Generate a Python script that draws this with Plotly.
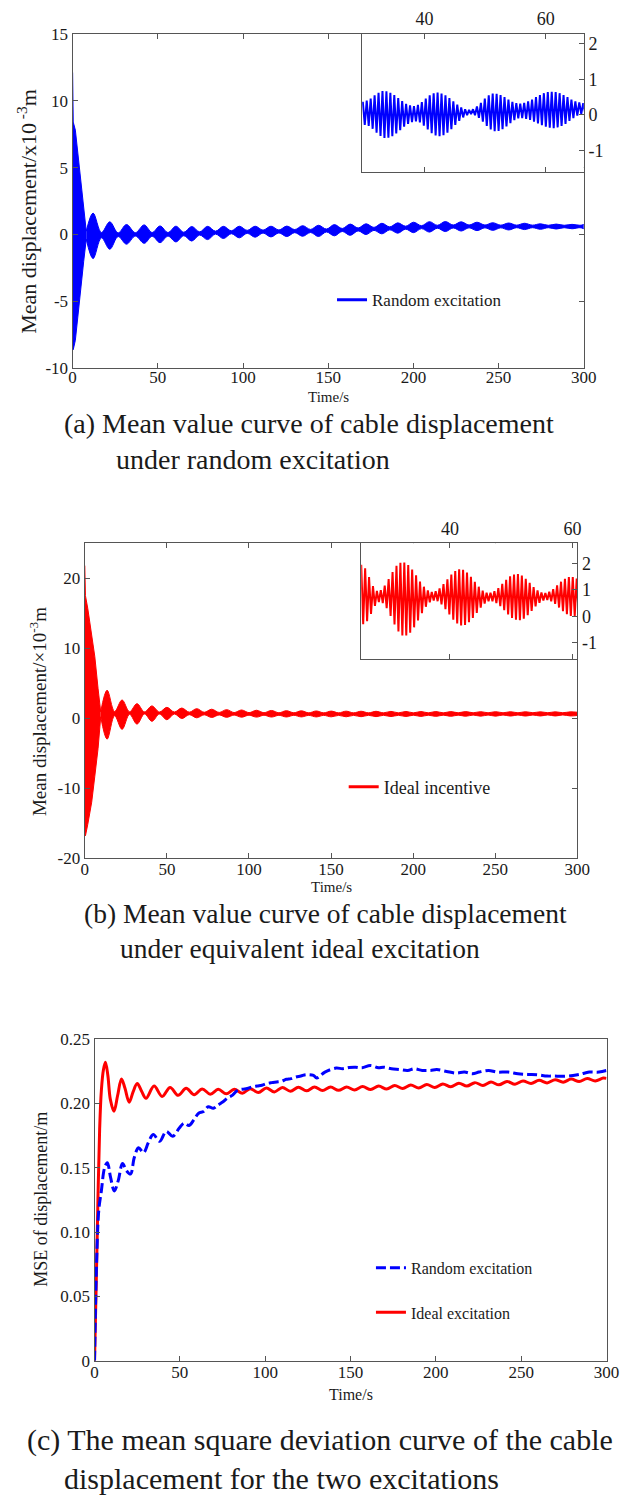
import plotly.graph_objects as go

W, H = 638, 1507
FONT = "Liberation Serif"
BLUE = "#0000ff"
RED = "#ff0000"
AXC = "#555555"
TXT = "#1a1a1a"

# ---------------- (a) mean displacement under random excitation (x10^-3 m) ----------------
# initial decay: time, upper and lower edge of the oscillation band
a_head_t = [0.0, 0.35, 1.6, 2.7, 4.6, 6.5, 8.0]
a_head_up = [12.1, 8.4, 7.8, 6.5, 4.1, 1.6, 0.25]
a_head_lo = [-7.8, -8.6, -7.9, -6.5, -4.3, -2.0, -0.35]
# beat maxima
a_peak_t = [12.0, 21.8, 31.6, 42.0, 51.3, 60.6, 69.9, 79.2, 88.5, 97.8, 107.1, 116.4, 125.7,
            135.0, 144.3, 153.6, 162.9, 172.2, 181.5, 190.8, 200.1, 209.4, 218.7, 228.0, 237.3,
            246.6, 255.9, 265.2, 274.5, 283.8, 293.1]
a_peak_up = [1.6, 0.95, 0.75, 0.72, 0.64, 0.62, 0.60, 0.61, 0.61, 0.62, 0.62, 0.62, 0.63, 0.66,
             0.69, 0.74, 0.78, 0.80, 0.84, 0.87, 0.92, 0.96, 0.97, 0.95, 0.92, 0.88, 0.86, 0.84,
             0.80, 0.78, 0.76]
a_peak_lo = [-1.8, -1.1, -0.72, -0.66, -0.61, -0.55, -0.49, -0.38, -0.30, -0.25, -0.20, -0.18,
             -0.15, -0.13, -0.15, -0.10, -0.06, 0.00, 0.05, 0.10, 0.14, 0.18, 0.22, 0.26, 0.29,
             0.31, 0.34, 0.37, 0.39, 0.41, 0.43]
# beat minima (necks)
a_neck_t = [16.9, 26.7, 36.8, 46.65, 55.95, 65.25, 74.55, 83.85, 93.15, 102.45, 111.75, 121.05,
            130.35, 139.65, 148.95, 158.25, 167.55, 176.85, 186.15, 195.45, 204.75, 214.05,
            223.35, 232.65, 241.95, 251.25, 260.55, 269.85, 279.15, 288.45, 297.75]
a_neck_up = [0.15, 0.12, 0.14, 0.15, 0.15, 0.17, 0.20, 0.25, 0.28, 0.31, 0.33, 0.34, 0.37, 0.38,
             0.41, 0.45, 0.49, 0.53, 0.57, 0.62, 0.66, 0.69, 0.71, 0.71, 0.71, 0.70, 0.70, 0.70,
             0.69, 0.69, 0.69]
a_neck_lo = [-0.25, -0.15, -0.12, -0.13, -0.12, -0.09, -0.04, 0.03, 0.06, 0.09, 0.11, 0.12, 0.14,
             0.15, 0.19, 0.23, 0.27, 0.31, 0.35, 0.40, 0.44, 0.47, 0.49, 0.50, 0.50, 0.50, 0.51,
             0.51, 0.51, 0.51, 0.51]
a_tail = (300.0, 0.75, 0.43)

# inset (a): per-cycle maxima / minima of the fast oscillation, 29.8 s .. 66.2 s
a_ins_t0, a_ins_period = 29.8, 0.65
a_ins_peak = [0.37, 0.40, 0.46, 0.55, 0.62, 0.67, 0.66, 0.62, 0.56, 0.47, 0.39, 0.31, 0.27,
              0.25, 0.28, 0.36, 0.46, 0.55, 0.61, 0.63, 0.60, 0.55, 0.47, 0.38, 0.29, 0.21, 0.16,
              0.14, 0.16, 0.24, 0.34, 0.46, 0.55, 0.60, 0.59, 0.56, 0.50, 0.43, 0.37, 0.33, 0.32,
              0.34, 0.38, 0.43, 0.50, 0.56, 0.61, 0.64, 0.65, 0.64, 0.61, 0.56, 0.50, 0.43, 0.38,
              0.35, 0.33]
a_ins_trough = [-0.28, -0.31, -0.39, -0.50, -0.59, -0.65, -0.64, -0.60, -0.52, -0.43, -0.33,
                -0.25, -0.20, -0.18, -0.21, -0.30, -0.41, -0.51, -0.58, -0.60, -0.57, -0.50,
                -0.40, -0.28, -0.17, -0.07, -0.01, 0.02, -0.01, -0.08, -0.19, -0.31, -0.41,
                -0.46, -0.45, -0.40, -0.32, -0.23, -0.15, -0.10, -0.09, -0.11, -0.14, -0.19,
                -0.24, -0.29, -0.33, -0.36, -0.37, -0.35, -0.31, -0.25, -0.17, -0.09, -0.02,
                0.03, 0.05]

# ---------------- (b) mean displacement under equivalent ideal excitation ----------------
b_head_t = [0.0, 0.4, 1.8, 4.2, 6.1, 8.1, 9.7]
b_head_up = [21.8, 17.5, 15.7, 12.2, 8.8, 4.2, 0.9]
b_head_lo = [-16.0, -16.8, -15.2, -12.0, -8.3, -4.3, 0.2]
b_peak_t = [13.6, 22.7, 31.8, 40.9, 50.0, 59.1, 68.2, 77.3, 86.4, 95.5, 104.6, 113.7, 122.8,
            131.9, 141.0, 150.1, 159.2, 168.3, 177.4, 186.5, 195.6, 204.7, 213.8, 222.9, 232.0,
            241.1, 250.2, 259.3, 268.4, 277.5, 286.6, 295.7]
b_peak_up = [4.0, 2.6, 2.07, 1.75, 1.55, 1.45, 1.36, 1.28, 1.22, 1.17, 1.13, 1.10, 1.07, 1.05,
             1.03, 1.01, 1.00, 0.99, 0.98, 0.97, 0.96, 0.95, 0.95, 0.94, 0.94, 0.93, 0.93, 0.92,
             0.92, 0.91, 0.91, 0.90]
b_peak_lo = [-3.0, -1.6, -0.85, -0.45, -0.22, -0.05, 0.05, 0.10, 0.12, 0.14, 0.15, 0.16, 0.17,
             0.18, 0.18, 0.19, 0.20, 0.21, 0.22, 0.23, 0.24, 0.25, 0.26, 0.27, 0.28, 0.29, 0.29,
             0.30, 0.30, 0.31, 0.31, 0.32]
b_neck_t = [18.15, 27.25, 36.35, 45.45, 54.55, 63.65, 72.75, 81.85, 90.95, 100.05, 109.15,
            118.25, 127.35, 136.45, 145.55, 154.65, 163.75, 172.85, 181.95, 191.05, 200.15,
            209.25, 218.35, 227.45, 236.55, 245.65, 254.75, 263.85, 272.95, 282.05, 291.15]
b_neck_up = [0.95, 0.92, 0.90, 0.88, 0.88, 0.86, 0.84, 0.82, 0.80, 0.79, 0.78, 0.77, 0.77, 0.76,
             0.76, 0.76, 0.76, 0.76, 0.76, 0.76, 0.76, 0.76, 0.76, 0.77, 0.77, 0.77, 0.77, 0.77,
             0.78, 0.78, 0.78]
b_neck_lo = [0.35, 0.55, 0.60, 0.58, 0.60, 0.50, 0.48, 0.46, 0.44, 0.43, 0.42, 0.41, 0.41, 0.40,
             0.40, 0.40, 0.40, 0.41, 0.41, 0.41, 0.42, 0.42, 0.43, 0.43, 0.44, 0.44, 0.45, 0.45,
             0.45, 0.46, 0.46]
b_tail = (300.0, 0.85, 0.38)

# inset (b): per-cycle maxima / minima, 25.5 s .. 60.7 s
b_ins_t0, b_ins_period = 25.5, 0.64
b_ins_peak = [1.95, 1.82, 1.49, 1.14, 0.96, 0.99, 1.16, 1.41, 1.68, 1.91, 2.03, 2.04, 1.94, 1.77,
              1.55, 1.32, 1.12, 0.98, 0.92, 0.95, 1.06, 1.22, 1.40, 1.58, 1.71, 1.78, 1.76, 1.66,
              1.50, 1.31, 1.12, 0.97, 0.89, 0.89, 0.95, 1.07, 1.23, 1.38, 1.51, 1.58, 1.60, 1.54,
              1.42, 1.27, 1.11, 0.98, 0.90, 0.88, 0.93, 1.03, 1.17, 1.31, 1.42, 1.49, 1.49, 1.43]
b_ins_trough = [-0.30, -0.19, 0.09, 0.39, 0.54, 0.50, 0.31, 0.01, -0.31, -0.58, -0.73, -0.73,
                -0.62, -0.42, -0.16, 0.12, 0.36, 0.53, 0.60, 0.57, 0.45, 0.27, 0.07, -0.13,
                -0.27, -0.35, -0.33, -0.23, -0.06, 0.13, 0.33, 0.48, 0.57, 0.57, 0.50, 0.38,
                0.23, 0.07, -0.06, -0.13, -0.15, -0.09, 0.04, 0.20, 0.37, 0.51, 0.60, 0.62,
                0.57, 0.47, 0.33, 0.19, 0.08, 0.01, 0.01, 0.05]

# ---------------- (c) mean square deviation of displacement (m) ----------------
c_rand_t = [0, 1.1, 2.5, 4.0, 5.9, 7.5, 9.4, 11.6, 13.9, 16.4, 18.8, 21.1, 23.3, 25.8, 28.7,
            31.5, 34.4, 38.2, 42.0, 45.8, 49.7, 52.5, 55.4, 58.2, 61.0, 63.9, 66.7, 69.6, 72.4,
            75.3, 78.1, 80.9, 83.9, 86.7, 89.5, 92.4, 95.3, 98.1, 101.0, 103.8, 106.7, 109.5,
            112.4, 115.2, 118.1, 120.9, 123.8, 128.3, 130.2, 135.0, 141.6, 145.4, 149.2, 153.0,
            156.8, 161.6, 166.4, 169.2, 174.0, 178.7, 183.5, 187.3, 192.0, 196.8, 200.6, 206.3,
            212.0, 216.7, 221.5, 225.3, 231.0, 235.7, 242.4, 248.1, 253.8, 259.5, 265.2, 269.0,
            274.7, 280.4, 284.2, 289.9, 295.6, 300.0]
c_rand_y = [0, 0.071, 0.117, 0.132, 0.150, 0.154, 0.1425, 0.132, 0.140, 0.1533, 0.1476, 0.1451,
            0.158, 0.1656, 0.1617, 0.1694, 0.1758, 0.1706, 0.1783, 0.1745, 0.1809, 0.1847,
            0.1829, 0.1873, 0.1924, 0.1937, 0.1975, 0.1962, 0.1988, 0.2013, 0.2044, 0.2065,
            0.2103, 0.2111, 0.2116, 0.2129, 0.2136, 0.2142, 0.2155, 0.2162, 0.2167, 0.2172,
            0.2188, 0.2193, 0.2206, 0.2213, 0.2224, 0.2218, 0.2198, 0.2244, 0.2275, 0.2270,
            0.2280, 0.2282, 0.2277, 0.2295, 0.2277, 0.2282, 0.2270, 0.2264, 0.2257, 0.2270,
            0.2257, 0.2257, 0.2264, 0.2249, 0.2236, 0.2244, 0.2231, 0.2244, 0.2257, 0.2244,
            0.2244, 0.2231, 0.2226, 0.2223, 0.2213, 0.2213, 0.2211, 0.2218, 0.2226, 0.2244,
            0.2244, 0.2257]
c_ideal_t = [0, 1, 2, 3, 4, 5.2, 6.4, 7.8, 9.3, 11.4, 13.5, 15.8, 17.8, 20.3, 22.6, 25.0, 27.6,
             30.2, 34.9, 39.6, 44.3, 49.0, 53.7, 58.4, 63.1, 67.8, 72.5, 77.2, 81.9, 86.6, 91.3,
             96.0, 100.7, 105.4, 110.1, 114.8, 119.5, 124.2, 128.9, 133.6, 138.3, 143.0, 147.7,
             152.4, 157.1, 161.8, 166.5, 171.2, 175.9, 180.6, 185.3, 190.0, 194.7, 199.4, 204.1,
             208.8, 213.5, 218.2, 222.9, 227.6, 232.3, 237.0, 241.7, 246.4, 251.1, 255.8, 260.5,
             265.2, 269.9, 274.6, 279.3, 284.0, 288.7, 293.4, 298.1, 300.0]
c_ideal_y = [0, 0.06, 0.125, 0.18, 0.21, 0.226, 0.232, 0.222, 0.203, 0.194, 0.206, 0.219, 0.212,
             0.201, 0.209, 0.2155, 0.2095, 0.2040, 0.2135, 0.2055, 0.2125, 0.2063, 0.2118,
             0.2068, 0.2113, 0.2072, 0.2110, 0.2075, 0.2110, 0.2080, 0.2115, 0.2085, 0.2120,
             0.2090, 0.2124, 0.2095, 0.2127, 0.2098, 0.2128, 0.2100, 0.2128, 0.2102, 0.2128,
             0.2105, 0.2131, 0.2108, 0.2135, 0.2112, 0.2139, 0.2116, 0.2143, 0.2120, 0.2147,
             0.2125, 0.2152, 0.2130, 0.2157, 0.2135, 0.2162, 0.2140, 0.2166, 0.2145, 0.2171,
             0.2150, 0.2175, 0.2155, 0.2180, 0.2160, 0.2185, 0.2165, 0.2190, 0.2170, 0.2194,
             0.2175, 0.2198, 0.2195]

time_ticks = [0, 50, 100, 150, 200, 250, 300]


def fx(px):
    return px / W


def fy(py):
    return 1 - py / H


def beat_knots(head_t, head_up, head_lo, pt, pu, pl, nt, nu, nl, tail):
    rows = [(head_t[-1], head_up[-1], head_lo[-1])]
    rows += list(zip(pt, pu, pl)) + list(zip(nt, nu, nl)) + [tail]
    rows.sort()
    return [r[0] for r in rows], [r[1] for r in rows], [r[2] for r in rows]


def zigzag(t0, period, peaks, troughs):
    xs, ys = [], []
    for i, (p, q) in enumerate(zip(peaks, troughs)):
        t = t0 + i * period
        xs += [t, t + period / 2]
        ys += [p, q]
    return xs, ys


def band(fig, t, up, lo, color, xa, ya, shape):
    fig.add_trace(go.Scatter(x=t, y=up, mode="lines", line=dict(color=color, width=1, shape=shape),
                             xaxis=xa, yaxis=ya, showlegend=False, hoverinfo="skip"))
    fig.add_trace(go.Scatter(x=t, y=lo, mode="lines", line=dict(color=color, width=1, shape=shape),
                             fill="tonexty", fillcolor=color, xaxis=xa, yaxis=ya,
                             showlegend=False, hoverinfo="skip"))


fig = go.Figure()

# (a) band
band(fig, a_head_t, a_head_up, a_head_lo, BLUE, "x", "y", "linear")
ta, ua, la = beat_knots(a_head_t, a_head_up, a_head_lo, a_peak_t, a_peak_up, a_peak_lo,
                        a_neck_t, a_neck_up, a_neck_lo, a_tail)
band(fig, ta, ua, la, BLUE, "x", "y", "spline")
fig.add_trace(go.Scatter(x=[None], y=[None], mode="lines", line=dict(color=BLUE, width=3),
                         name="Random excitation", xaxis="x", yaxis="y", legend="legend"))
# (a) inset
xi, yi = zigzag(a_ins_t0, a_ins_period, a_ins_peak, a_ins_trough)
fig.add_trace(go.Scatter(x=xi, y=yi, mode="lines", line=dict(color=BLUE, width=2),
                         xaxis="x2", yaxis="y2", showlegend=False, hoverinfo="skip"))

# (b) band
band(fig, b_head_t, b_head_up, b_head_lo, RED, "x3", "y3", "linear")
tb, ub, lb = beat_knots(b_head_t, b_head_up, b_head_lo, b_peak_t, b_peak_up, b_peak_lo,
                        b_neck_t, b_neck_up, b_neck_lo, b_tail)
band(fig, tb, ub, lb, RED, "x3", "y3", "spline")
fig.add_trace(go.Scatter(x=[None], y=[None], mode="lines", line=dict(color=RED, width=3),
                         name="Ideal incentive", xaxis="x3", yaxis="y3", legend="legend2"))
# (b) inset
xi, yi = zigzag(b_ins_t0, b_ins_period, b_ins_peak, b_ins_trough)
fig.add_trace(go.Scatter(x=xi, y=yi, mode="lines", line=dict(color=RED, width=2),
                         xaxis="x4", yaxis="y4", showlegend=False, hoverinfo="skip"))

# (c) curves
fig.add_trace(go.Scatter(x=c_ideal_t, y=c_ideal_y, mode="lines", name="Ideal excitation",
                         line=dict(color=RED, width=3, shape="spline"),
                         xaxis="x5", yaxis="y5", legend="legend4"))
fig.add_trace(go.Scatter(x=c_rand_t, y=c_rand_y, mode="lines", name="Random excitation",
                         line=dict(color=BLUE, width=3, dash="10px,4px", shape="spline"),
                         xaxis="x5", yaxis="y5", legend="legend3"))


def axis(dom, rng, anchor, vals, texts, **kw):
    d = dict(domain=dom, range=rng, anchor=anchor, showgrid=False, zeroline=False,
             showline=True, linecolor=AXC, linewidth=1.3, mirror="ticks",
             ticks="inside", ticklen=5, tickwidth=1, tickcolor=AXC,
             tickvals=vals, ticktext=texts,
             tickfont=dict(family=FONT, size=17, color=TXT))
    d.update(kw)
    return d


def leg(px, py, size):
    return dict(x=fx(px), y=fy(py), xanchor="left", yanchor="middle",
                bgcolor="rgba(0,0,0,0)", font=dict(family=FONT, size=size, color=TXT))


tt = [str(v) for v in time_ticks]
fig.update_layout(
    width=W, height=H, autosize=False,
    margin=dict(l=0, r=0, t=0, b=0),
    paper_bgcolor="white", plot_bgcolor="white",
    xaxis=axis([fx(70.5), fx(595.7)], [0, 300], "y", time_ticks, tt, ticklabelstandoff=-7),
    yaxis=axis([fy(364), fy(25)], [-10, 15], "x", [-10, -5, 0, 5, 10, 15],
               ["-10", "-5", "0", "5", "10", "15"]),
    xaxis2=axis([fx(368), fx(595.7)], [29.7, 66.3], "y2", [40, 60], ["40", "60"], side="top",
                tickfont=dict(family=FONT, size=18, color=TXT)),
    yaxis2=axis([fy(165), fy(25)], [-1.6, 2.28], "x2", [-1, 0, 1, 2], ["-1", "0", "1", "2"],
                side="right", mirror=True, tickfont=dict(family=FONT, size=18, color=TXT)),
    xaxis3=axis([fx(83), fx(589)], [0, 300], "y3", time_ticks, tt, ticklabelstandoff=-5),
    yaxis3=axis([fy(860), fy(541)], [-20, 25], "x3", [-20, -10, 0, 10, 20],
                ["-20", "-10", "0", "10", "20"]),
    xaxis4=axis([fx(367), fx(589)], [25.5, 60.8], "y4", [40, 60], ["40", "60"], side="top",
                tickfont=dict(family=FONT, size=18, color=TXT)),
    yaxis4=axis([fy(658.3), fy(541)], [-1.62, 2.77], "x4", [-1, 0, 1, 2], ["-1", "0", "1", "2"],
                side="right", mirror=True, tickfont=dict(family=FONT, size=18, color=TXT)),
    xaxis5=axis([fx(93), fx(619)], [0, 300], "y5", time_ticks, tt, mirror=True,
                ticklabelstandoff=-4),
    yaxis5=axis([fy(1369), fy(1043.3)], [0, 0.25], "x5", [0, 0.05, 0.10, 0.15, 0.20, 0.25],
                ["0", "0.05", "0.10", "0.15", "0.20", "0.25"], mirror=True),
    legend=leg(337, 295, 17),
    legend2=leg(349, 788, 18),
    legend3=leg(377, 1275, 16),
    legend4=leg(377, 1320, 16),
)


def note(text, px, py, size, angle=0, xanchor="center"):
    return dict(text=text, x=fx(px), y=fy(py), xref="paper", yref="paper", showarrow=False,
                xanchor=xanchor, yanchor="middle", textangle=angle,
                font=dict(family=FONT, size=size, color=TXT))


notes = [
    note("Mean displacement/x10<sup> -3</sup>m", 24, 205, 22, -90),
    note("Time/s", 333, 393, 15),
    note("(a) Mean value curve of cable displacement", 60, 420, 28, xanchor="left"),
    note("under random excitation", 113, 456, 28, xanchor="left"),
    note("Mean displacement/×10<sup>-3</sup>m", 35, 712, 19, -90),
    note("Time/s", 336, 889, 15),
    note("(b) Mean value curve of cable displacement", 80, 916, 27.5, xanchor="left"),
    note("under equivalent ideal excitation", 117, 952, 27.5, xanchor="left"),
    note("MSE of displacement/m", 38, 1205, 18, -90),
    note("Time/s", 356, 1403, 16),
    note("(c) The mean square deviation curve of the cable", 22, 1449, 30, xanchor="left"),
    note("displacement for the two excitations", 60, 1488, 30, xanchor="left"),
]
fig.update_layout(annotations=notes)

fig.write_html("out.html")
